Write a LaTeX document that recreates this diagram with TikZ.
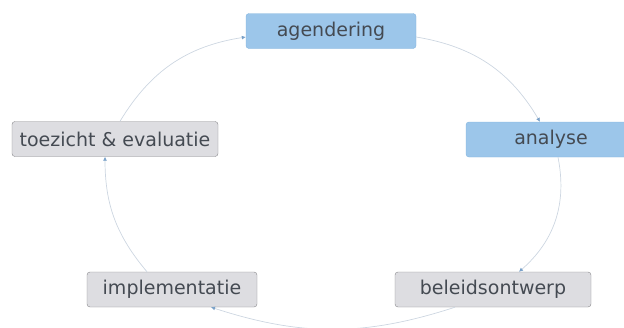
\documentclass[tikz,border=0pt]{standalone}
\usepackage{fontspec}
\setmainfont{DejaVu Sans}
\usetikzlibrary{arrows.meta}

\definecolor{phaseblue}{RGB}{156,198,234}
\definecolor{phaseblueline}{RGB}{132,180,222}
\definecolor{phasegray}{RGB}{221,221,225}
\definecolor{phasegrayline}{RGB}{135,135,138}
\definecolor{phasetext}{RGB}{68,74,82}
\definecolor{cycleline}{RGB}{205,214,225}
\definecolor{cycletip}{RGB}{120,160,200}

\tikzset{
  phase/.style={rectangle,rounded corners=3pt,minimum width=170,minimum height=35,
    inner xsep=4pt,text=phasetext,font=\fontsize{19}{22}\selectfont},
  bluephase/.style={phase,fill=phaseblue,draw=phaseblueline,thin},
  grayphase/.style={phase,fill=phasegray,draw=phasegrayline,thin},
  cycle/.style={draw=cycleline,line width=0.7pt,
    -{Latex[length=4pt,width=4pt,color=cycletip]}}
}

\begin{document}
\begin{tikzpicture}[x=1pt,y=-1pt]
  \useasboundingbox (0,0) rectangle (624,327);

  \node[bluephase] (agendering) at (331,31) {agendering};
  \node[bluephase] (analyse) at (551,139.5) {analyse};
  \node[grayphase,minimum width=196] (ontwerp) at (493,289.5) {beleidsontwerp};
  \node[grayphase] (implementatie) at (172,289.5) {implementatie};
  \node[grayphase,minimum width=206] (toezicht) at (115,139) {toezicht \& evaluatie};

  % the policy cycle, clockwise
  \draw[cycle] ([yshift=-6]agendering.east) to [bend left=25] ([xshift=-11]analyse.north);
  \draw[cycle] ([xshift=7]analyse.south) to [bend left=30] ([xshift=26]ontwerp.north);
  \draw[cycle] ([xshift=-38]ontwerp.south) to [bend left=18] ([xshift=39]implementatie.south);
  \draw[cycle] ([xshift=-25]implementatie.north) to [bend left=20] ([xshift=-10]toezicht.south);
  \draw[cycle] ([xshift=5]toezicht.north) to [bend left=25] ([yshift=-6]agendering.west);
\end{tikzpicture}
\end{document}
